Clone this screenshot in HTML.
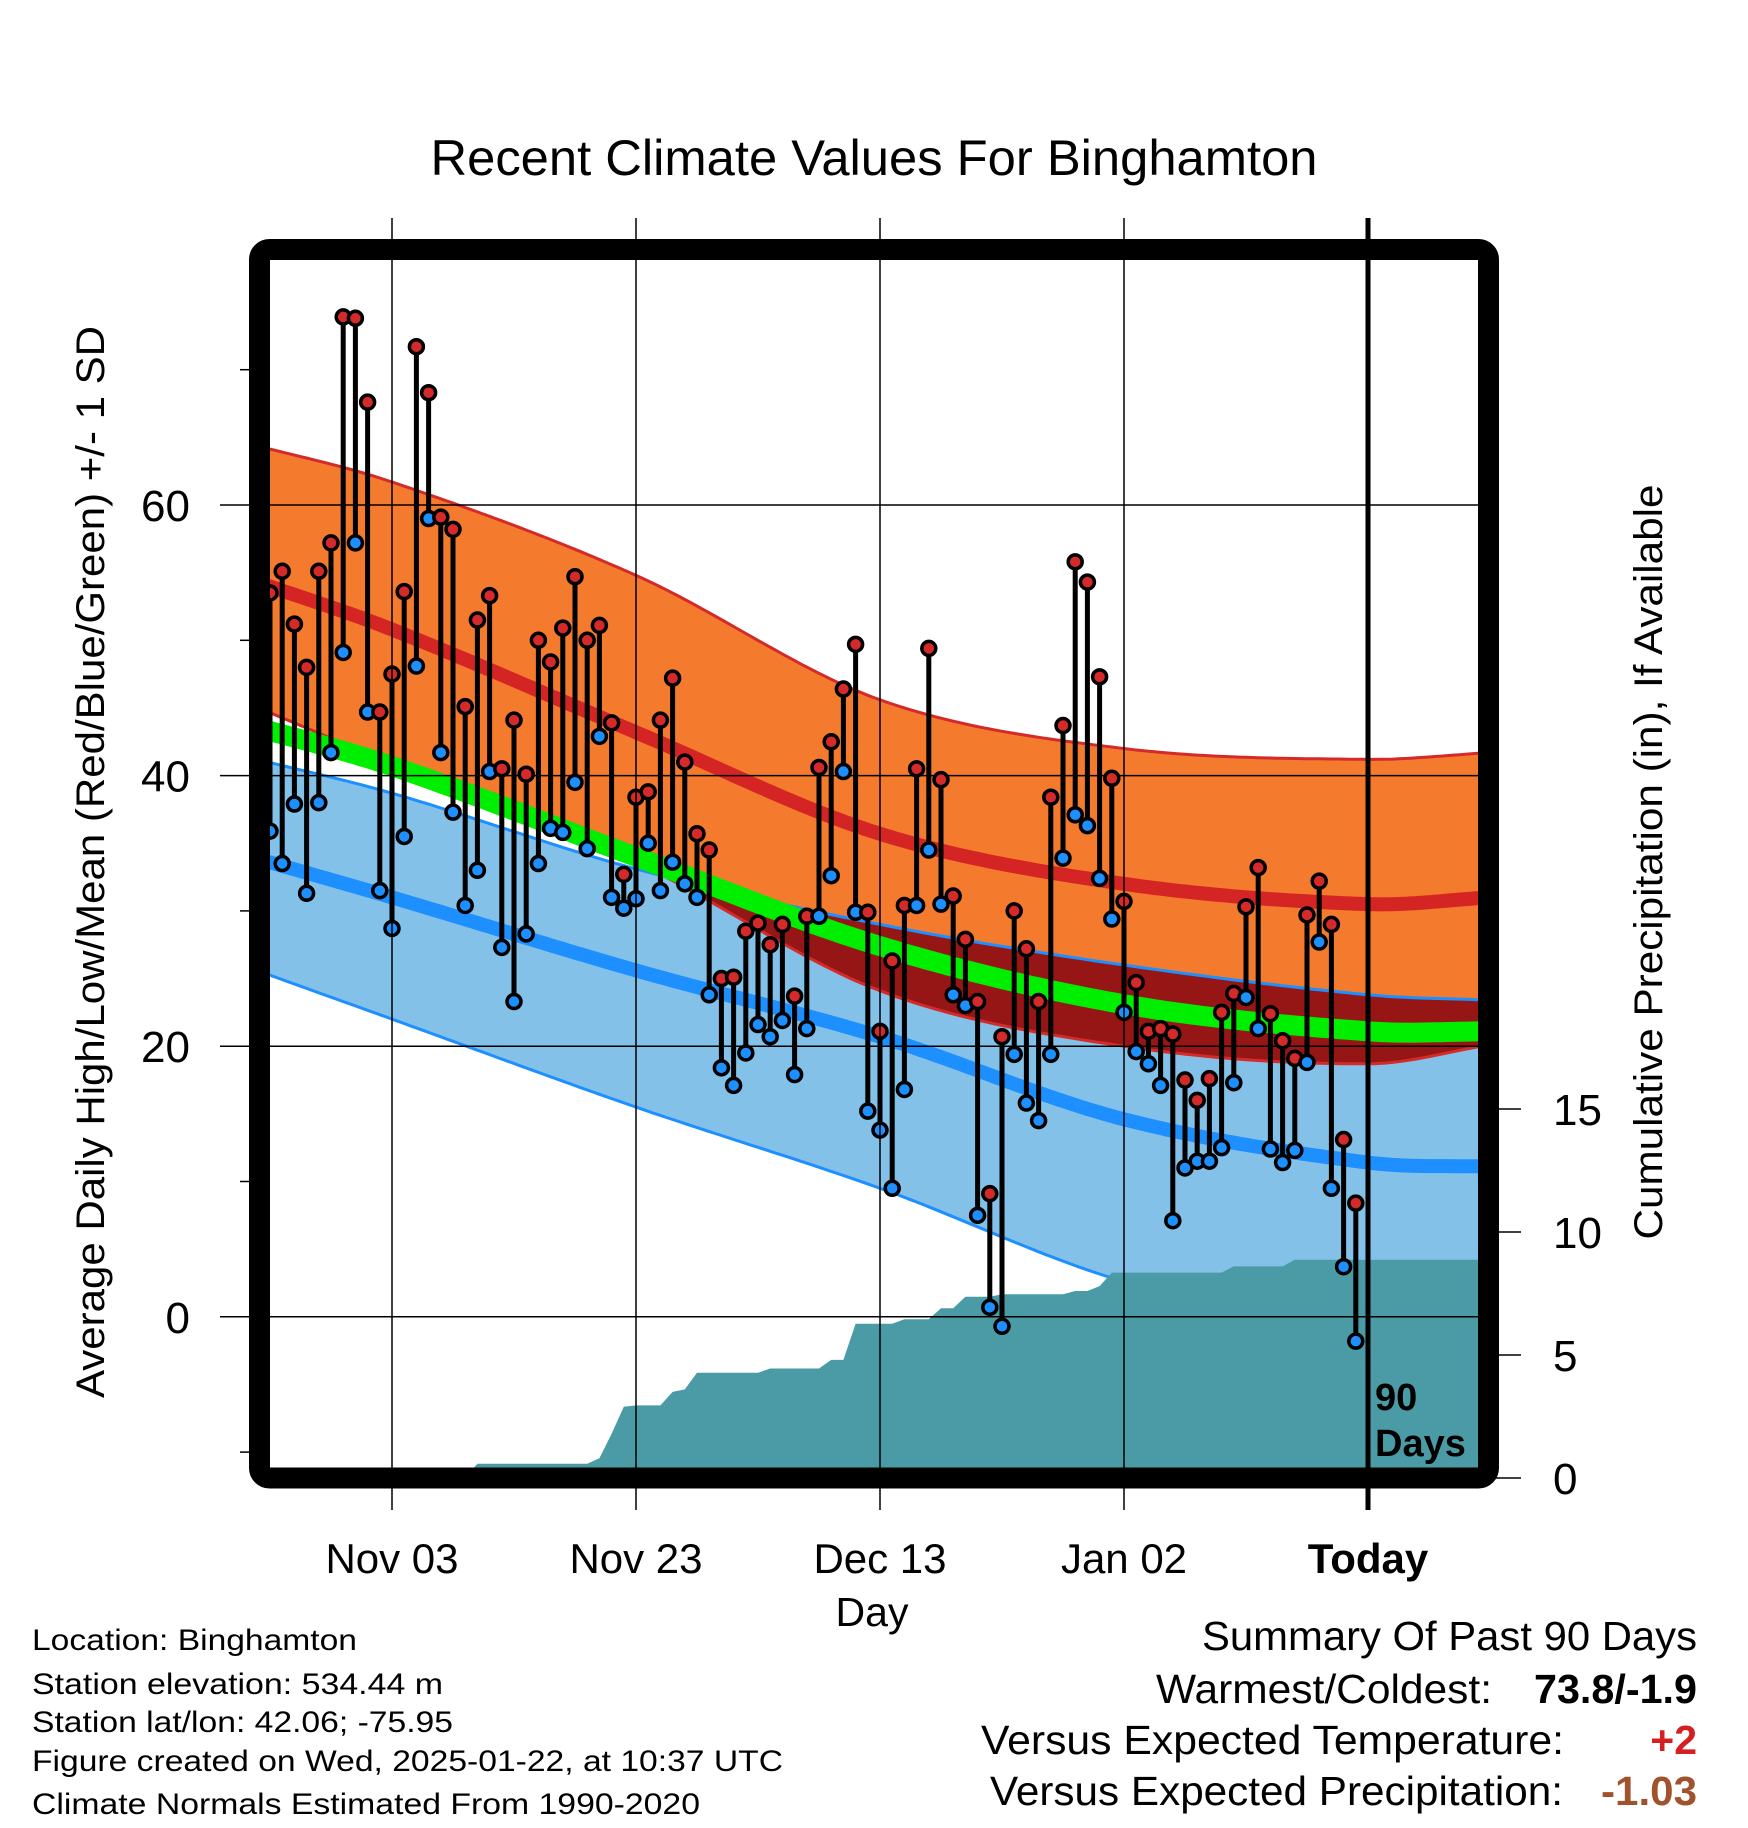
<!DOCTYPE html>
<html><head><meta charset="utf-8"><style>
html,body{margin:0;padding:0;background:#fff}
svg{display:block}
text{font-family:"Liberation Sans",Arial,sans-serif}
</style></head><body>
<svg id="chart" width="1748" height="1828" viewBox="0 0 1748 1828" xmlns="http://www.w3.org/2000/svg">
<defs><clipPath id="plotclip"><rect x="270" y="260" width="1208" height="1208"/></clipPath></defs>
<text x="874" y="175" font-size="50" text-anchor="middle" textLength="887" lengthAdjust="spacingAndGlyphs">Recent Climate Values For Binghamton</text>
<g id="plot" clip-path="url(#plotclip)"></g>
<g id="axes"></g>
<rect x="259.5" y="249.5" width="1229" height="1228.5" rx="10" fill="none" stroke="#000" stroke-width="21"/>
<text transform="translate(104,862) rotate(-90)" font-size="40" text-anchor="middle" textLength="1072" lengthAdjust="spacingAndGlyphs">Average Daily High/Low/Mean (Red/Blue/Green) +/- 1 SD</text>
<text transform="translate(1662,862) rotate(-90)" font-size="40" text-anchor="middle" textLength="755" lengthAdjust="spacingAndGlyphs">Cumulative Precipitation (in), If Available</text>
<text x="872" y="1626" font-size="41" text-anchor="middle">Day</text>
<text x="1375" y="1410" font-size="38" font-weight="bold">90</text>
<text x="1375" y="1456" font-size="38" font-weight="bold">Days</text>
<g font-size="30">
<text x="32" y="1650" textLength="325" lengthAdjust="spacingAndGlyphs">Location: Binghamton</text>
<text x="32" y="1694" textLength="411" lengthAdjust="spacingAndGlyphs">Station elevation: 534.44 m</text>
<text x="32" y="1732" textLength="421" lengthAdjust="spacingAndGlyphs">Station lat/lon: 42.06; -75.95</text>
<text x="32" y="1771" textLength="751" lengthAdjust="spacingAndGlyphs">Figure created on Wed, 2025-01-22, at 10:37 UTC</text>
<text x="32" y="1814" textLength="668" lengthAdjust="spacingAndGlyphs">Climate Normals Estimated From 1990-2020</text>
</g>
<g font-size="41">
<text x="1202" y="1650" textLength="495" lengthAdjust="spacingAndGlyphs">Summary Of Past 90 Days</text>
<text x="1156" y="1703" textLength="336" lengthAdjust="spacingAndGlyphs">Warmest/Coldest:</text>
<text x="1534" y="1703" font-weight="bold" textLength="163" lengthAdjust="spacingAndGlyphs">73.8/-1.9</text>
<text x="981" y="1754" textLength="583" lengthAdjust="spacingAndGlyphs">Versus Expected Temperature:</text>
<text x="1697" y="1754" text-anchor="end" font-weight="bold" fill="#d42020">+2</text>
<text x="990" y="1805" textLength="573" lengthAdjust="spacingAndGlyphs">Versus Expected Precipitation:</text>
<text x="1601" y="1805" font-weight="bold" fill="#a0522d" textLength="96" lengthAdjust="spacingAndGlyphs">-1.03</text>
</g>
</svg>
<script>
// data
const highs=[53.5,55.1,51.2,48.0,55.1,57.2,73.9,73.8,67.6,44.7,47.5,53.6,71.7,68.3,59.1,58.2,45.1,51.5,53.3,40.5,44.1,40.1,50.0,48.4,50.9,54.7,50.0,51.1,43.9,32.7,38.4,38.8,44.1,47.2,41.0,35.7,34.5,25.0,25.1,28.5,29.1,27.5,29.0,23.7,29.6,40.6,42.5,46.4,49.7,29.9,21.1,26.3,30.4,40.5,49.4,39.7,31.1,27.9,23.3,9.1,20.7,30.0,27.2,23.3,38.4,43.7,55.8,54.3,47.3,39.8,30.7,24.7,21.1,21.3,20.9,17.5,16.0,17.6,22.5,23.9,30.3,33.2,22.4,20.4,19.1,29.7,32.2,29.0,13.1,8.4];
const lows=[35.9,33.5,37.9,31.3,38.0,41.7,49.1,57.2,44.7,31.5,28.7,35.5,48.1,59.0,41.7,37.3,30.4,33.0,40.3,27.3,23.3,28.3,33.5,36.1,35.8,39.5,34.6,42.9,31.0,30.2,30.9,35.0,31.5,33.6,32.0,31.0,23.8,18.4,17.1,19.5,21.6,20.7,21.9,17.9,21.3,29.6,32.6,40.3,29.9,15.2,13.8,9.5,16.8,30.4,34.5,30.5,23.8,23.0,7.5,0.7,-0.7,19.4,15.8,14.5,19.4,33.9,37.1,36.3,32.4,29.4,22.5,19.6,18.7,17.1,7.1,11.0,11.5,11.5,12.5,17.3,23.6,21.3,12.4,11.4,12.3,18.8,27.7,9.5,3.7,-1.8];
const precip=[0,0,0,0,0,0,0,0,0,0,0,0,0,0,0,0,0,0.58,0.58,0.58,0.58,0.58,0.58,0.58,0.58,0.58,0.58,0.8,1.8,2.9,2.95,2.95,2.95,3.5,3.6,4.28,4.28,4.28,4.28,4.28,4.28,4.45,4.45,4.45,4.45,4.45,4.8,4.8,6.27,6.27,6.27,6.27,6.45,6.45,6.45,6.9,6.9,7.37,7.37,7.37,7.47,7.47,7.47,7.47,7.47,7.47,7.6,7.6,7.8,8.35,8.35,8.35,8.35,8.35,8.35,8.35,8.35,8.35,8.35,8.6,8.6,8.6,8.6,8.6,8.87,8.87,8.87,8.87,8.87,8.87];
const normDays=[-92,-80,-60,-40,-20,0,10];
const normHigh=[54.6,50.8,43.2,35.7,32.0,30.5,31.0];
const highPlus=[64.6,61.7,54.8,45.6,42.0,41.2,41.7];
const highMinus=[45.4,40.9,33.6,24.1,20.0,18.7,20.1];
const lowPlus=[41.4,38.7,33.1,29.0,26.0,23.8,23.4];
const normLow=[34.1,31.0,25.6,20.7,14.6,11.4,11.1];
const lowMinus=[25.9,22.0,15.5,9.5,2.6,-1.0,-1.0];
const normMean=[43.8,40.7,34.0,27.4,23.1,21.1,21.1];
const tempTicks=[0,20,40,60];
const tempMinor=[-10,10,30,50,70];
const precipTicks=[0,5,10,15];
const dateTicks=[-80,-60,-40,-20,0];
const dateLabels=["Nov 03","Nov 23","Dec 13","Jan 02","Today"];

const NS="http://www.w3.org/2000/svg";
const X=d=>1368+12.2*d;
const Y=t=>1316.8-13.53*t;
const YP=p=>1478-24.6*p;
const plot=document.getElementById('plot'), axes=document.getElementById('axes');
function mk(tag,attrs,parent){const e=document.createElementNS(NS,tag);for(const k in attrs)e.setAttribute(k,attrs[k]);parent.appendChild(e);return e;}
// Catmull-Rom (non-uniform handled approximately via tangent slopes)
function interp(arr,d){const n=normDays.length;
 for(let i=0;i<n-1;i++){if(d<=normDays[i+1]||i==n-2){const a=normDays[i],b=normDays[i+1],h=b-a;const u=(d-a)/h;
  const sl=k=>{if(k==0)return (arr[1]-arr[0])/(normDays[1]-normDays[0]);if(k==n-1)return (arr[n-1]-arr[n-2])/(normDays[n-1]-normDays[n-2]);return (arr[k+1]-arr[k-1])/(normDays[k+1]-normDays[k-1]);};
  const m0=sl(i)*h,m1=sl(i+1)*h;const u2=u*u,u3=u2*u;
  return (2*u3-3*u2+1)*arr[i]+(u3-2*u2+u)*m0+(-2*u3+3*u2)*arr[i+1]+(u3-u2)*m1;}}
 return arr[n-1];}
const samp=[];for(let d=-92;d<=10;d+=0.5)samp.push(d);
function line(arr){return samp.map((d,i)=>(i?'L':'M')+X(d).toFixed(1)+','+Y(interp(arr,d)).toFixed(1)).join('');}
function band(a,b){return line(a)+samp.slice().reverse().map(d=>'L'+X(d).toFixed(1)+','+Y(interp(b,d)).toFixed(1)).join('')+'Z';}
let e;
e=mk('path',{d:band(highPlus,highMinus),fill:'#f47a2e'},plot);


e=mk('path',{d:band(lowPlus,lowMinus),fill:'#84c1e8'},plot);


let ov=samp.map((d,i)=>(i?'L':'M')+X(d).toFixed(1)+','+Y(interp(lowPlus,d)).toFixed(1)).join('')+samp.slice().reverse().map(d=>'L'+X(d).toFixed(1)+','+Y(Math.min(interp(lowPlus,d),interp(highMinus,d))).toFixed(1)).join('')+'Z';
e=mk('path',{d:ov,fill:'#961616'},plot);


e=mk('path',{d:line(highPlus),fill:'none',stroke:'#d42a2a','stroke-width':3},plot);


e=mk('path',{d:line(highMinus),fill:'none',stroke:'#d42a2a','stroke-width':3},plot);


e=mk('path',{d:line(lowPlus),fill:'none',stroke:'#1e8fff','stroke-width':3},plot);


e=mk('path',{d:line(lowMinus),fill:'none',stroke:'#1e8fff','stroke-width':3},plot);


e=mk('path',{d:line(normHigh),fill:'none',stroke:'#d42424','stroke-width':14},plot);


e=mk('path',{d:line(normLow),fill:'none',stroke:'#1e8fff','stroke-width':14},plot);


e=mk('path',{d:line(normMean),fill:'none',stroke:'#00ee00','stroke-width':20},plot);


let pd='M'+X(-90)+','+YP(0);
precip.forEach((p,i)=>{pd+='L'+X(-90+i).toFixed(1)+','+YP(p).toFixed(1);});
pd+='L'+X(10)+','+YP(precip[precip.length-1]).toFixed(1)+'L'+X(10)+','+YP(0)+'Z';
e=mk('path',{d:pd,fill:'#4a9ba5'},plot);


tempTicks.forEach(t=>{e=mk('line',{x1:270,x2:1478,y1:Y(t),y2:Y(t),stroke:'#000','stroke-width':1.5},plot);

});
dateTicks.forEach((d,i)=>{e=mk('line',{x1:X(d),x2:X(d),y1:218,y2:1510,stroke:'#000','stroke-width':i==4?5:1.5},axes);


e=mk('text',{x:X(d),y:1573,'font-size':42,'text-anchor':'middle','font-weight':i==4?'bold':'normal'},axes);e.textContent=dateLabels[i];

});
highs.forEach((h,i)=>{const x=X(-90+i);
e=mk('line',{x1:x,x2:x,y1:Y(h),y2:Y(lows[i]),stroke:'#000','stroke-width':5},plot);

});
highs.forEach((h,i)=>{const x=X(-90+i);
e=mk('circle',{cx:x,cy:Y(lows[i]),r:7,fill:'#1e8fff',stroke:'#000','stroke-width':3.5},plot);


e=mk('circle',{cx:x,cy:Y(h),r:7,fill:'#d42a2a',stroke:'#000','stroke-width':3.5},plot);

});
tempTicks.forEach(t=>{e=mk('line',{x1:220,x2:252,y1:Y(t),y2:Y(t),stroke:'#000','stroke-width':1.5},axes);


e=mk('text',{x:190,y:Y(t)+16,'font-size':44,'text-anchor':'end'},axes);e.textContent=t;

});
tempMinor.forEach(t=>{e=mk('line',{x1:240,x2:252,y1:Y(t),y2:Y(t),stroke:'#000','stroke-width':1.5},axes);

});
precipTicks.forEach(p=>{e=mk('line',{x1:1495,x2:1521,y1:YP(p),y2:YP(p),stroke:'#000','stroke-width':1.5},axes);


e=mk('text',{x:1553,y:YP(p)+16,'font-size':44},axes);e.textContent=p;

});
</script>
</body></html>
